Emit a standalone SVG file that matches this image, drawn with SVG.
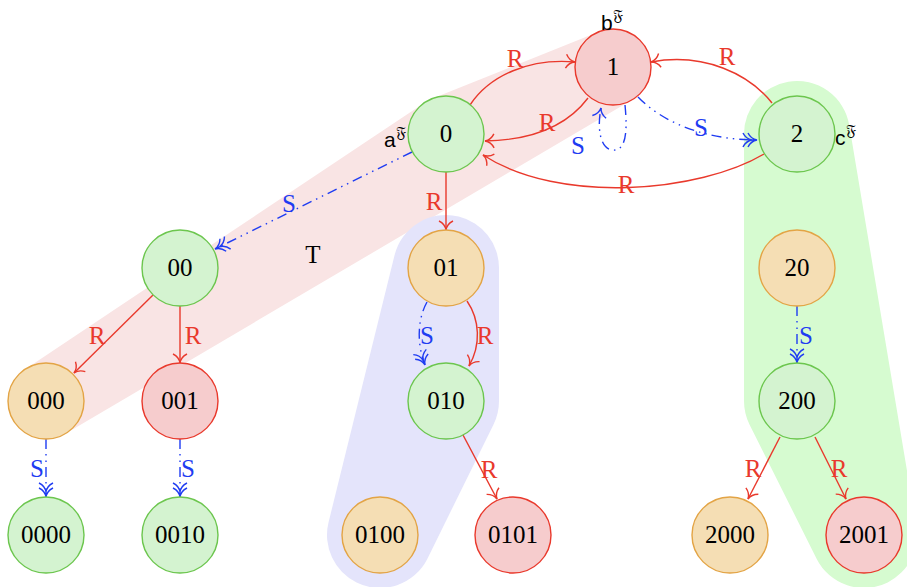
<svg xmlns="http://www.w3.org/2000/svg" width="907" height="587" viewBox="0 0 907 587">
<defs>
<style>
.nd circle{stroke-width:1.4}
.g circle{fill:#d4f3d0;stroke:#6cc64e}
.o circle{fill:#f5deb4;stroke:#e3a445}
.r circle{fill:#f6cccd;stroke:#e9392c}
.nd text{font-family:"Liberation Serif",serif;font-size:25px;text-anchor:middle;fill:#000}
.er{fill:none;stroke:#e9392c;stroke-width:1.4;marker-end:url(#ar)}
.es{fill:none;stroke:#1f3cf2;stroke-width:1.4;stroke-dasharray:10 5 1.5 5 1.5 5;marker-end:url(#ab2)}
.lr{font-family:"Liberation Serif",serif;font-size:25px;fill:#e9392c;text-anchor:middle}
.ls{font-family:"Liberation Serif",serif;font-size:25px;fill:#1f3cf2;text-anchor:middle}
.sup{font-family:"Liberation Sans","DejaVu Sans",sans-serif;font-size:21px;fill:#000}
</style>
<marker id="ar" markerUnits="userSpaceOnUse" orient="auto" refX="0" refY="0" overflow="visible">
<path d="M-9,-7 Q-6,-1 0,0 Q-6,1 -9,7" fill="none" stroke="#e9392c" stroke-width="1.4"/>
</marker>
<marker id="ab1" markerUnits="userSpaceOnUse" orient="auto" refX="0" refY="0" overflow="visible">
<path d="M-9,-7 Q-6,-1 0,0 Q-6,1 -9,7" fill="none" stroke="#1f3cf2" stroke-width="1.4"/>
</marker>
<marker id="ab2" markerUnits="userSpaceOnUse" orient="auto" refX="0" refY="0" overflow="visible">
<path d="M-9,-7 Q-6,-1 0,0 Q-6,1 -9,7 M-14,-7 Q-11,-1 -5,0 Q-11,1 -14,7 M-5,0 L0,0" fill="none" stroke="#1f3cf2" stroke-width="1.4"/>
</marker>
</defs>
<g id="regions">
<polygon points="46,401 446,134 613,67" fill="#f9e4e4" stroke="#f9e4e4" stroke-width="76" stroke-linejoin="round" stroke-linecap="round"/>
<polygon points="446,268 446,401 380,535" fill="#e4e4fb" stroke="#e4e4fb" stroke-width="106" stroke-linejoin="round"/>
<polygon points="797,134 797,401 864,535" fill="#d6fbd0" stroke="#d6fbd0" stroke-width="106" stroke-linejoin="round"/>
<text x="313" y="263" font-family="Liberation Serif,serif" font-size="25" text-anchor="middle">T</text>
</g>
<g id="connectors">
<path class="er" d="M470,105 C490,75 530,58 575,62"/>
<path class="er" d="M588,98 C570,122 540,140 485,141"/>
<path class="er" d="M772,103 C750,75 705,52 651,62"/>
<path class="er" d="M764,154 C700,192 560,205 483,155"/>
<path class="es" d="M638,97 C665,125 710,140 757,140"/>
<path class="es" style="marker-end:url(#ab1)" d="M625,105 C628,135 625,152 612,150 C600,148 597,128 601,108"/>
<path class="es" d="M412,152 L215,249"/>
<path class="er" d="M446,172 L446,230"/>
<path class="er" d="M153,295 L74,373"/>
<path class="er" d="M180,306 L180,363"/>
<path class="es" d="M46,439 L46,497"/>
<path class="es" d="M180,439 L180,497"/>
<path class="es" d="M427,302 C417,320 417,345 425,365"/>
<path class="er" d="M467,301 C480,320 481,345 469,366"/>
<path class="er" d="M463,435 L497,499"/>
<path class="es" d="M797,306 L797,363"/>
<path class="er" d="M780,437 L748,499"/>
<path class="er" d="M815,437 L846,499"/>
<text class="lr" x="515" y="67">R</text>
<text class="lr" x="547" y="131">R</text>
<text class="lr" x="727" y="65">R</text>
<text class="lr" x="626" y="193">R</text>
<text class="ls" x="701" y="136">S</text>
<text class="ls" x="578" y="154">S</text>
<text class="ls" x="289" y="212">S</text>
<text class="lr" x="434" y="210">R</text>
<text class="lr" x="97" y="344">R</text>
<text class="lr" x="193" y="344">R</text>
<text class="ls" x="37" y="477">S</text>
<text class="ls" x="188" y="477">S</text>
<text class="ls" x="427" y="344">S</text>
<text class="lr" x="485" y="344">R</text>
<text class="lr" x="489" y="478">R</text>
<text class="ls" x="806" y="344">S</text>
<text class="lr" x="753" y="477">R</text>
<text class="lr" x="839" y="477">R</text>
</g>
<g id="n1" class="nd r"><circle cx="613" cy="67" r="38"/><text x="613" y="75">1</text></g>
<g id="n0" class="nd g"><circle cx="446" cy="134" r="38"/><text x="446" y="142">0</text></g>
<g id="n2" class="nd g"><circle cx="797" cy="134" r="38"/><text x="797" y="142">2</text></g>
<g id="n00" class="nd g"><circle cx="180" cy="268" r="38"/><text x="180" y="276">00</text></g>
<g id="n01" class="nd o"><circle cx="446" cy="268" r="38"/><text x="446" y="276">01</text></g>
<g id="n20" class="nd o"><circle cx="797" cy="268" r="38"/><text x="797" y="276">20</text></g>
<g id="n000" class="nd o"><circle cx="46" cy="401" r="38"/><text x="46" y="409">000</text></g>
<g id="n001" class="nd r"><circle cx="180" cy="401" r="38"/><text x="180" y="409">001</text></g>
<g id="n010" class="nd g"><circle cx="446" cy="401" r="38"/><text x="446" y="409">010</text></g>
<g id="n200" class="nd g"><circle cx="797" cy="401" r="38"/><text x="797" y="409">200</text></g>
<g id="n0000" class="nd g"><circle cx="46" cy="535" r="38"/><text x="46" y="543">0000</text></g>
<g id="n0010" class="nd g"><circle cx="180" cy="535" r="38"/><text x="180" y="543">0010</text></g>
<g id="n0100" class="nd o"><circle cx="380" cy="535" r="38"/><text x="380" y="543">0100</text></g>
<g id="n0101" class="nd r"><circle cx="513" cy="535" r="38"/><text x="513" y="543">0101</text></g>
<g id="n2000" class="nd o"><circle cx="730" cy="535" r="38"/><text x="730" y="543">2000</text></g>
<g id="n2001" class="nd r"><circle cx="864" cy="535" r="38"/><text x="864" y="543">2001</text></g>
<g id="tags">
<text class="sup" x="384" y="147">a<tspan dy="-9" font-size="16">&#x1D509;</tspan></text>
<text class="sup" x="601" y="30">b<tspan dy="-9" font-size="16">&#x1D509;</tspan></text>
<text class="sup" x="835" y="145">c<tspan dy="-9" font-size="16">&#x1D509;</tspan></text>
</g>
</svg>
